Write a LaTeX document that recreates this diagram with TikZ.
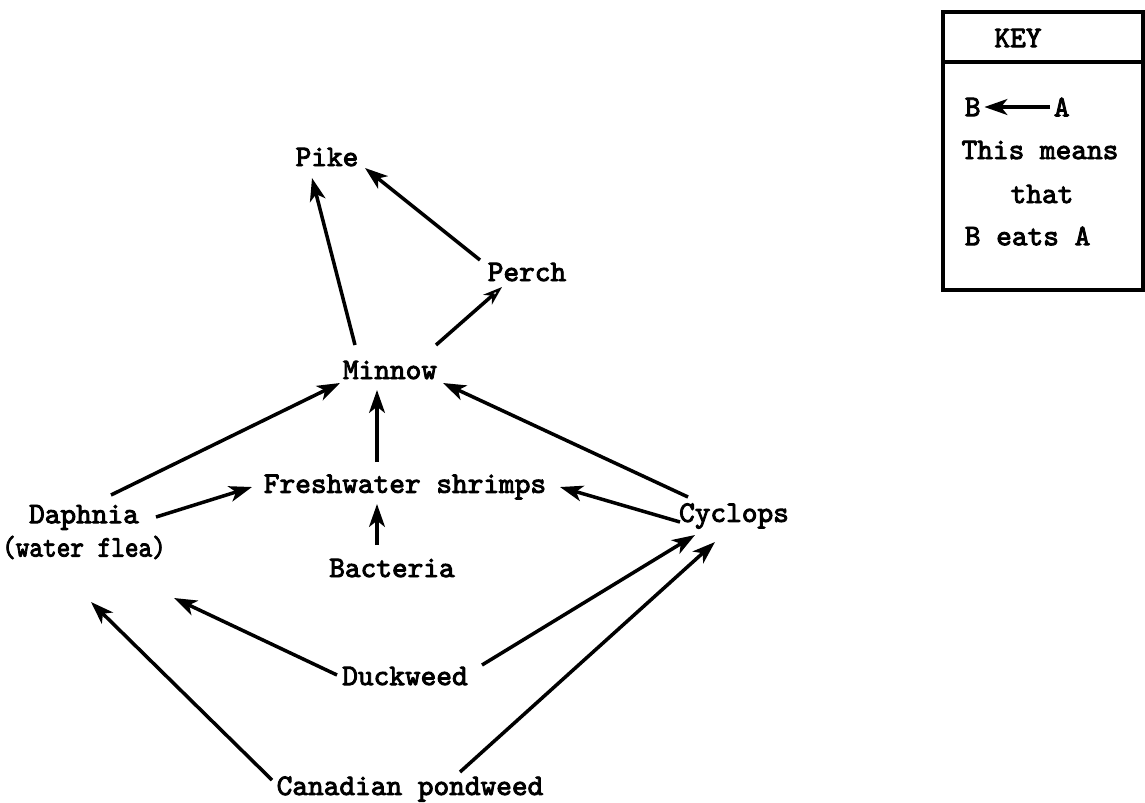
\documentclass[tikz,border=0pt]{standalone}
\usepackage{fontspec}
\newfontfamily\tw{lmmono10-regular.otf}[FakeBold=3]
\usetikzlibrary{arrows.meta,calc}
\begin{document}
\begin{tikzpicture}[x=0.02cm,y=-0.02cm,
  lbl/.style={font=\tw\fontsize{17}{19}\selectfont, inner sep=2pt},
  eat/.style={line width=2pt, -{Stealth[length=13pt,width=9pt,inset=3.5pt]}},
  eatopen/.style={line width=2pt, -{Stealth[open,length=11pt,width=7.5pt,line width=1.3pt]}},
  keybox/.style={line width=2pt}]
\useasboundingbox (0,0) rectangle (1145,802);
% nodes
\node[lbl] (pike) at (327,157) {Pike};
\node[lbl] (perch) at (527,272) {Perch};
\node[lbl] (minnow) at (390,370) {Minnow};
\node[lbl] (shrimps) at (405,487) {Freshwater shrimps};
\node[lbl, align=center] (daphnia) at (84,532) {Daphnia\\\scalebox{0.87}[1]{(water flea)}};
\node[lbl] (cyclops) at (734,516) {Cyclops};
\node[lbl] (bacteria) at (392,568) {Bacteria};
\node[lbl] (duckweed) at (405,676) {Duckweed};
\node[lbl] (pondweed) at (410,789) {Canadian pondweed};
% connectors
\draw[eat] ($(minnow)+(-35,-25)$) -- ($(pike)+(-15,21)$);
\draw[eat] ($(perch)+(-47,-12)$) -- ($(pike)+(38,11)$);
\draw[eatopen] ($(minnow)+(46,-25)$) -- ($(perch)+(-25,15)$);
\draw[eat] ($(daphnia)+(27,-37)$) -- ($(minnow)+(-50,13)$);
\draw[eat] ($(shrimps)+(-28,-25)$) -- ($(minnow)+(-13,20)$);
\draw[eat] ($(cyclops)+(-46,-19)$) -- ($(minnow)+(53,13)$);
\draw[eat] ($(daphnia)+(72,-15)$) -- ($(shrimps)+(-153,0)$);
\draw[eat] ($(cyclops)+(-54,6)$) -- ($(shrimps)+(155,0)$);
\draw[eat] ($(bacteria)+(-15,-23)$) -- ($(shrimps)+(-28,17)$);
\draw[eat] ($(duckweed)+(-68,-1)$) -- ($(daphnia)+(90,66)$);
\draw[eat] ($(duckweed)+(77,-11)$) -- ($(cyclops)+(-39,19)$);
\draw[eat] ($(pondweed)+(-138,-9)$) -- ($(daphnia)+(7,70)$);
\draw[eat] ($(pondweed)+(50,-17)$) -- ($(cyclops)+(-19,26)$);
% key
\draw[keybox] (943,12) rectangle (1143,290);
\draw[keybox] (943,62) -- (1143,62);
\node[lbl] (keytitle) at (1018,38) {KEY};
\node[lbl, anchor=west] (kb) at (961,107) {B};
\node[lbl, anchor=west] (ka) at (1050,107) {A};
\draw[eat] (ka.west) -- (kb.east);
\node[lbl] (kmeans) at (1040,150) {This means};
\node[lbl] (kthat) at (1042,194) {that};
\node[lbl, anchor=west] (keats) at (961,236) {B eats A};
\end{tikzpicture}
\end{document}
